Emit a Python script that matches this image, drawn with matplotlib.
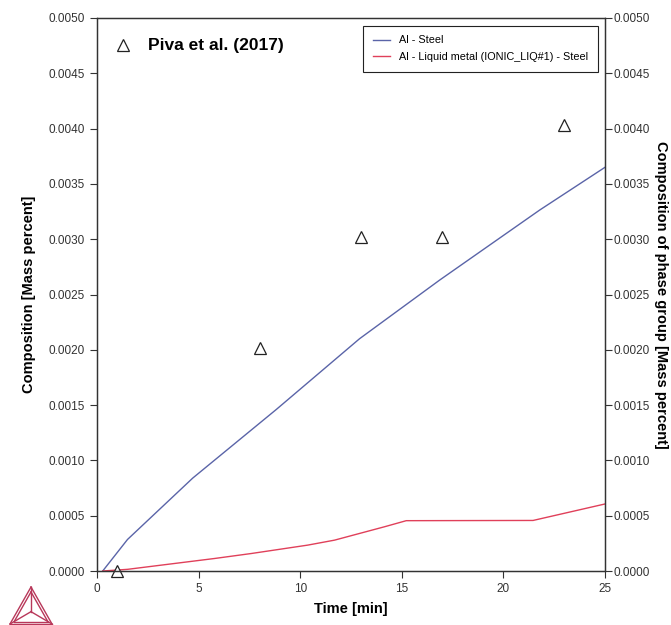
import matplotlib
matplotlib.use('Agg')
import matplotlib.pyplot as plt
from matplotlib.lines import Line2D

plt.rcParams['font.family'] = ['Liberation Sans', 'DejaVu Sans']

# Al - Steel
steelTime = [0.28, 1.5, 4.71, 8.82, 12.92, 16.86, 21.79, 25.0]
steelComp = [0.0, 0.000285, 0.00084, 0.00146, 0.0021, 0.00263, 0.003264, 0.00365]

# Al - Liquid metal (IONIC_LIQ#1) - Steel
liqTime = [0.28, 1.5, 5.78, 7.59, 10.37, 11.69, 14.15, 15.22, 21.46, 25.0]
liqComp = [0.0, 0.000015, 0.000113, 0.000158, 0.000234, 0.000279, 0.0004, 0.000455, 0.000457, 0.000606]

# Piva et al. (2017)
expTime = [1, 8, 13, 17, 23]
expComp = [0.0, 0.00202, 0.00302, 0.00302, 0.00403]

fig = plt.figure(figsize=(6.71, 6.25), dpi=100)
ax = fig.add_axes([0.1446, 0.0864, 0.7570, 0.8848])

ax.plot(steelTime, steelComp, color='#5a64a8', lw=1.0, label='Al - Steel')
ax.plot(liqTime, liqComp, color='#e0405a', lw=1.0, label='Al - Liquid metal (IONIC_LIQ#1) - Steel')
ax.plot(expTime, expComp, linestyle='none', marker='^', markersize=8,
        markerfacecolor='white', markeredgecolor='#222222', markeredgewidth=0.9, clip_on=False)

# dataset annotation
ax.plot([0.051], [0.951], transform=ax.transAxes, linestyle='none', marker='^', markersize=8,
        markerfacecolor='white', markeredgecolor='#222222', markeredgewidth=0.9)
ax.text(0.1, 0.951, 'Piva et al. (2017)', transform=ax.transAxes, fontsize=12.5,
        fontweight='bold', va='center', ha='left')

ax.set_xlim(0, 25)
ax.set_ylim(0, 0.005)
ax.set_xticks([0, 5, 10, 15, 20, 25])
yt = [0.0005 * i for i in range(11)]
ax.set_yticks(yt)
ax.set_yticklabels([f'{v:.4f}' for v in yt])
ax.tick_params(direction='out', length=5, width=0.8, labelsize=8.5, colors='#333333',
               labelcolor='#333333')

ax2 = ax.twinx()
ax2.set_ylim(0, 0.005)
ax2.set_yticks(yt)
ax2.set_yticklabels([f'{v:.4f}' for v in yt])
ax2.tick_params(direction='out', length=5, width=0.8, labelsize=8.5, colors='#333333',
                labelcolor='#333333', pad=1)

for a in (ax, ax2):
    for s in a.spines.values():
        s.set_color('#333333')
        s.set_linewidth(0.9)

ax.set_xlabel('Time [min]', fontsize=10.5, fontweight='bold', labelpad=5)
ax.set_ylabel('Composition [Mass percent]', fontsize=10.5, fontweight='bold', labelpad=9)
ax2.set_ylabel('Composition of phase group [Mass percent]', fontsize=10.5, fontweight='bold',
               rotation=270, labelpad=13)

leg = ax.legend(loc='upper right', bbox_to_anchor=(0.997, 0.996), fontsize=7.8, frameon=True,
                fancybox=False, edgecolor='#222222', framealpha=1, handlelength=1.6,
                borderpad=0.9, labelspacing=0.6)
leg.get_frame().set_linewidth(0.8)

# Thermo-Calc style logo, bottom left
logoColor = '#b8385a'
def fp(x, y):
    return (x / 671, 1 - y / 625)
A, B, C = fp(31, 587), fp(10, 624), fp(52, 624)
M = ((A[0] + B[0] + C[0]) / 3, (A[1] + B[1] + C[1]) / 3)
def shrink(p, f):
    return (M[0] + (p[0] - M[0]) * f, M[1] + (p[1] - M[1]) * f)
a2, b2, c2 = shrink(A, 0.8), shrink(B, 0.8), shrink(C, 0.8)
segs = [(A, B), (B, C), (C, A), (a2, b2), (b2, c2), (c2, a2), (A, M), (B, M), (C, M)]
for p, q in segs:
    fig.add_artist(Line2D([p[0], q[0]], [p[1], q[1]], transform=fig.transFigure,
                          color=logoColor, lw=1.0))

fig.savefig('out.png', dpi=100)
